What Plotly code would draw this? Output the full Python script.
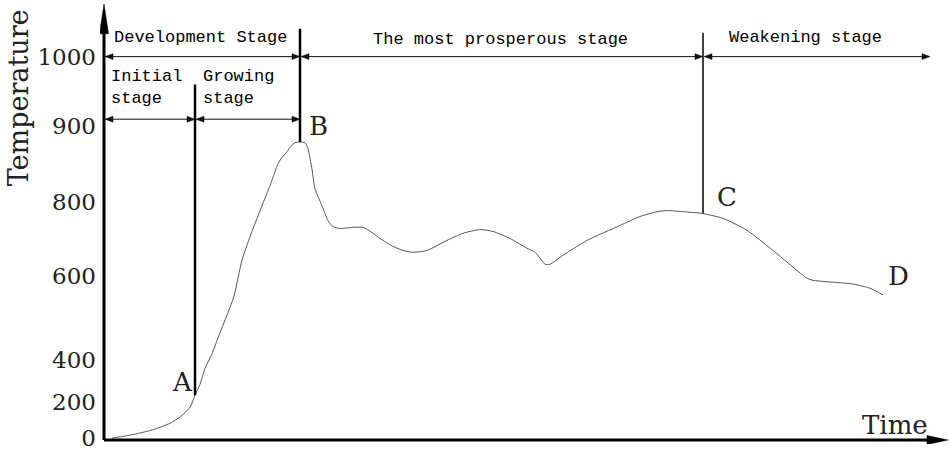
import numpy as np
import plotly.graph_objects as go

# ---------------- data ----------------
time = [8, 21, 36, 51, 66, 76, 86, 91, 96, 101, 108, 114, 123, 130, 138, 148, 158,
        166, 173, 177, 183, 186, 191, 196, 201, 204, 208, 211, 218, 224, 229, 236,
        249, 259, 268, 276, 289, 299, 309, 323, 343, 359, 376, 389, 406, 423, 431,
        436, 441, 446, 459, 483, 516, 536, 553, 563, 579, 599, 619, 643, 669, 703,
        709, 749, 766, 779]
temperature = [0, 11, 28, 50, 83, 117, 172, 233, 284, 358, 414, 452, 507, 552, 643,
               720, 789, 821, 847, 857, 866, 872, 878, 879, 878, 870, 843, 817, 789,
               749, 733, 728, 731, 731, 717, 701, 680, 669, 664, 669, 696, 715, 725,
               720, 701, 675, 664, 648, 632, 632, 656, 696, 736, 760, 773, 776, 773,
               768, 755, 723, 669, 595, 590, 581, 571, 555]

temp_ticks = [0, 200, 400, 600, 800, 900, 1000]
tick_labels = ["0", "200", "400", "600", "800", "900", "1000"]

stage_names = ["Development Stage", "The most prosperous stage", "Weakening stage"]
sub_stage_names = ["Initial<br>stage", "Growing<br>stage"]
point_labels = ["A", "B", "C", "D"]
t_A, t_B, t_C = 91, 196, 599
t_end = 826

# ---------------- schematic (non-linear) temperature scale ----------------
scale_pos = [2, 38, 81, 165, 240, 316, 386]


def ty(v):
    return float(np.interp(v, temp_ticks, scale_pos))


curve_y = [ty(v) for v in temperature]

fig = go.Figure()
fig.add_trace(go.Scatter(x=time, y=curve_y, mode="lines",
                         line=dict(color="#555555", width=1, shape="spline", smoothing=0.6),
                         hoverinfo="skip", showlegend=False))

shapes = []


def line(x0, y0, x1, y1, w=1, c="#111111"):
    shapes.append(dict(type="line", xref="x", yref="y", x0=x0, y0=y0, x1=x1, y1=y1,
                       line=dict(color=c, width=w)))


def head(tx, tyy, dx, dy, L, W, c="#111111"):
    bx, by = tx - L * dx, tyy - L * dy
    px, py = -dy * W, dx * W
    path = f"M{tx},{tyy} L{bx + px},{by + py} L{bx - px},{by - py} Z"
    shapes.append(dict(type="path", xref="x", yref="y", path=path,
                       fillcolor=c, line=dict(color=c, width=0.5)))


def darrow(xa, xb, y):
    line(xa + 2, y, xb - 2, y, w=1)
    head(xa + 1, y, -1, 0, 8, 3)
    head(xb, y, 1, 0, 8, 3)


# axes
line(0, 0, 0, 412, w=3, c="black")
head(0, 439, 0, 1, 30, 4.5, c="black")
line(0, 0, 826, 0, w=3, c="black")
head(844, 0, 1, 0, 21, 4.5, c="black")

# stage arrows
row1 = ty(1000)
row2 = 323
darrow(0, t_B, row1)
darrow(t_B, t_C, row1)
darrow(t_C, t_end, row1)
darrow(0, t_A, row2)
darrow(t_A, t_B, row2)

# stage boundaries
yA = float(np.interp(t_A, time, curve_y))
yB = float(np.interp(t_B, time, curve_y))
yC = float(np.interp(t_C, time, curve_y))
line(t_A, yA, t_A, 358, w=2.5, c="black")
line(t_B, yB, t_B, 414, w=2.5, c="black")
line(t_C, yC, t_C, 410, w=1.5, c="black")

mono = dict(family="Liberation Mono, Courier New, Cousine, monospace", size=17, color="black")
serif = dict(family="DejaVu Serif", size=26, color="#222222")

ann = []


def text(x, y, s, font, xanchor="center", align="center", angle=0, xref="x"):
    ann.append(dict(x=x, y=y, xref=xref, yref="y", text=s, showarrow=False, font=font,
                    xanchor=xanchor, yanchor="middle", align=align, textangle=angle))


text(96, 405, stage_names[0], mono)
text(396, 403, stage_names[1], mono)
text(701, 405, stage_names[2], mono)
text(5, 355, sub_stage_names[0], mono, xanchor="left", align="left")
text(97, 355, sub_stage_names[1], mono, xanchor="left", align="left")

text(78, 58, point_labels[0], serif)
text(214, 316, point_labels[1], serif)
text(623, 245, point_labels[2], serif)
text(794, 165, point_labels[3], serif)
text(791, 15, "Time", serif)
text((18 - 100) / 849, 344, "Temperature", dict(family="DejaVu Serif", size=27, color="#222222"),
     angle=-90, xref="paper")

fig.update_layout(
    width=949, height=451,
    margin=dict(l=100, r=0, t=0, b=4),
    paper_bgcolor="white", plot_bgcolor="white",
    shapes=shapes, annotations=ann, showlegend=False,
    xaxis=dict(range=[-4, 845], showgrid=False, zeroline=False, showline=False,
               showticklabels=False, ticks="", fixedrange=True),
    yaxis=dict(range=[-4, 443], showgrid=False, zeroline=False, showline=False,
               tickmode="array", tickvals=[ty(v) for v in temp_ticks], ticktext=tick_labels,
               ticks="", ticklabelstandoff=3, ticklabeloverflow="allow",
               tickfont=dict(family="DejaVu Serif", size=23, color="#222222"),
               fixedrange=True),
)

fig.write_html("out.html", config={"displayModeBar": False},
               post_script="document.body.style.margin='0px';document.body.style.overflow='hidden';")
